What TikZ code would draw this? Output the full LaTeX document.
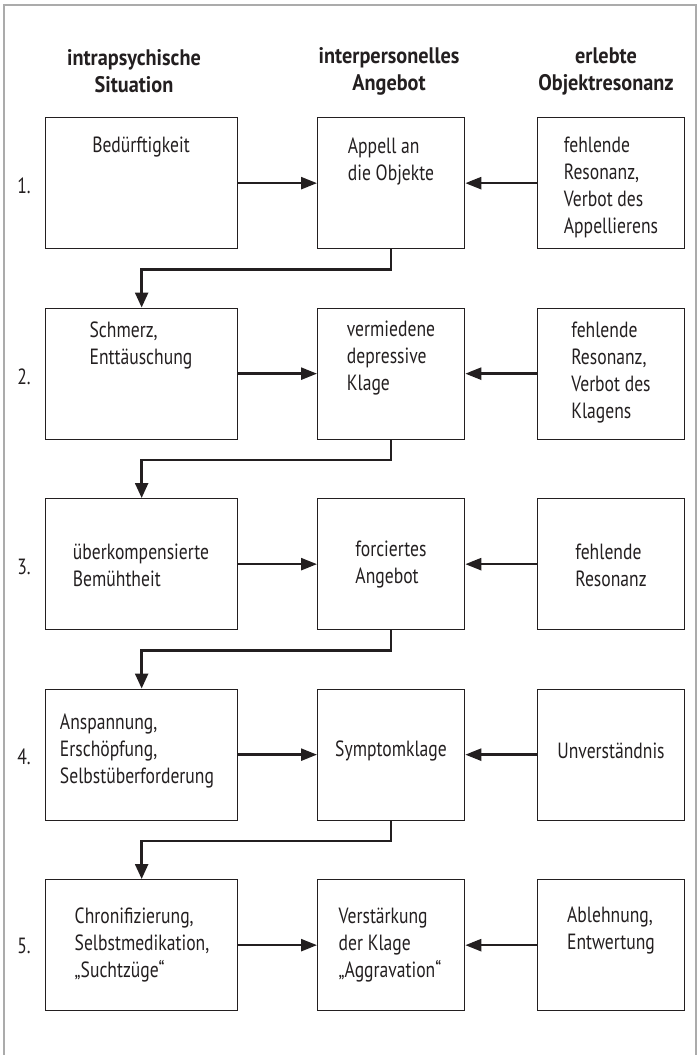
\documentclass[tikz,border=0pt]{standalone}
\usepackage{fontspec}
\setmainfont{PT Sans}[FakeStretch=0.80]
\newfontfamily\headfont{PT Sans}[FakeStretch=0.90]
\usetikzlibrary{arrows.meta}
\definecolor{framecol}{HTML}{ABABAB}
\definecolor{inkcol}{HTML}{231F20}
\begin{document}
\begin{tikzpicture}[x=1pt,y=-1pt,
  every node/.style={inner sep=0pt, text=inkcol},
  bodytext/.style={font=\fontsize{22}{27}\selectfont, align=left},
  headtext/.style={font=\headfont\fontsize{22.5}{27}\selectfont\bfseries, align=center},
  numtext/.style={font=\fontsize{22}{27}\selectfont},
  boxL/.style={draw=inkcol, line width=1.3pt, anchor=north west, minimum width=192pt, minimum height=131pt},
  boxS/.style={draw=inkcol, line width=1.3pt, anchor=north west, minimum width=147pt, minimum height=131pt},
  conn/.style={draw=inkcol, line width=2.5pt, -{Triangle[length=16pt,width=12pt]}},
  connd/.style={draw=inkcol, line width=2.5pt, -{Triangle[length=15pt,width=13pt]}}
]
\useasboundingbox (0,0) rectangle (698,1055);
% frame
\draw[framecol, line width=2.6pt] (4,1056) -- (4,5) -- (696,5) -- (696,1056);

% headers
\node[headtext] (h1) at (134,71) {intrapsychische\\Situation};
\node[headtext] (h2) at (389,71) {interpersonelles\\Angebot};
\node[headtext] (h3) at (606,71) {erlebte\\Objektresonanz};

% row 1
\node[boxL] (l1) at (45,117) {};
\node[boxS] (m1) at (317,117) {};
\node[boxS] (r1) at (537,117) {};
\node[numtext] (n1) at (24,186) {1.};
\node[bodytext] (tl1) at (141,147.5) {Bedürftigkeit};
\node[bodytext] (tm1) at (391,162) {Appell an\\die Objekte};
\node[bodytext] (tr1) at (611,187) {fehlende\\Resonanz,\\Verbot des\\Appellierens};

% row 2
\node[boxL] (l2) at (45,307.5) {};
\node[boxS] (m2) at (317,307.5) {};
\node[boxS] (r2) at (537,307.5) {};
\node[numtext] (n2) at (24,377) {2.};
\node[bodytext] (tl2) at (141,345) {Schmerz,\\Enttäuschung};
\node[bodytext] (tm2) at (391,358.5) {vermiedene\\depressive\\Klage};
\node[bodytext] (tr2) at (611,372.5) {fehlende\\Resonanz,\\Verbot des\\Klagens};

% row 3
\node[boxL] (l3) at (45,498) {};
\node[boxS] (m3) at (317,498) {};
\node[boxS] (r3) at (537,498) {};
\node[numtext] (n3) at (24,567) {3.};
\node[bodytext] (tl3) at (141,565) {überkompensierte\\Bemühtheit};
\node[bodytext] (tm3) at (391,565) {forciertes\\Angebot};
\node[bodytext] (tr3) at (611,565) {fehlende\\Resonanz};

% row 4
\node[boxL] (l4) at (45,688.5) {};
\node[boxS] (m4) at (317,688.5) {};
\node[boxS] (r4) at (537,688.5) {};
\node[numtext] (n4) at (24,757) {4.};
\node[bodytext] (tl4) at (137,751) {Anspannung,\\Erschöpfung,\\Selbstüberforderung};
\node[bodytext] (tm4) at (391,751) {Symptomklage};
\node[bodytext] (tr4) at (611,751) {Unverständnis};

% row 5
\node[boxL] (l5) at (45,879) {};
\node[boxS] (m5) at (317,879) {};
\node[boxS] (r5) at (537,879) {};
\node[numtext] (n5) at (24,946) {5.};
\node[bodytext] (tl5) at (142,945) {Chronifizierung,\\Selbstmedikation,\\„Suchtzüge“};
\node[bodytext] (tm5) at (390,945) {Verstärkung\\der Klage\\„Aggravation“};
\node[bodytext] (tr5) at (611,930.5) {Ablehnung,\\Entwertung};

% horizontal arrows
\foreach \i in {1,...,5} {
  \draw[conn] (l\i.east) -- (m\i.west);
  \draw[conn] (r\i.west) -- (m\i.east);
}
% down connectors
\draw[connd] (m1.south) -- ++(0,20) -| (l2.north);
\draw[connd] (m2.south) -- ++(0,20) -| (l3.north);
\draw[connd] (m3.south) -- ++(0,20) -| (l4.north);
\draw[connd] (m4.south) -- ++(0,20) -| (l5.north);
\end{tikzpicture}
\end{document}
